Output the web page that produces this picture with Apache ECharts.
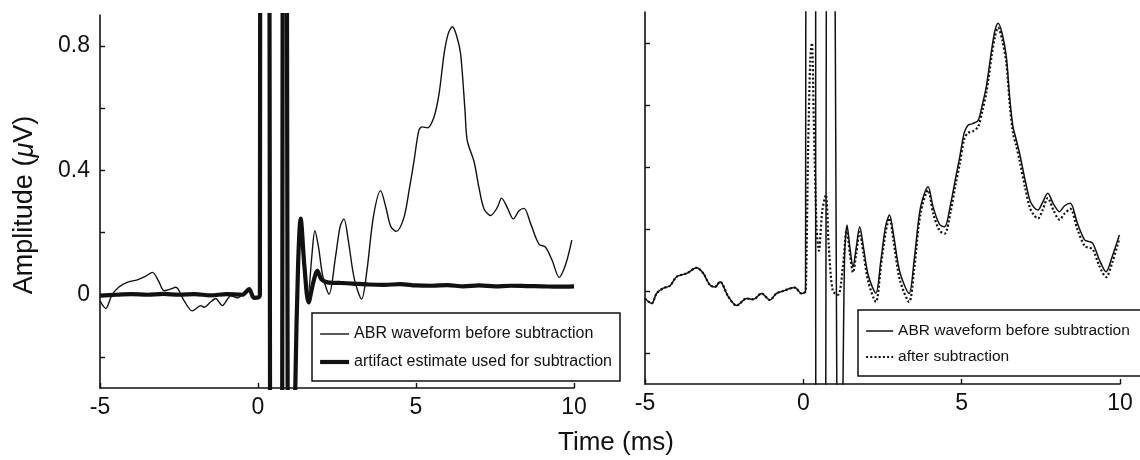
<!DOCTYPE html>
<html>
<head>
<meta charset="utf-8">
<script src="https://cdn.jsdelivr.net/npm/echarts@6/dist/echarts.min.js"></script>
<style>
html,body{margin:0;padding:0;background:#fff;}
#c{width:1140px;height:460px;}
</style>
</head>
<body>
<div id="c"></div>
<script>
// ---- data (time in ms, amplitude in µV) ----
const xTickLabels = [-5, 0, 5, 10];
const yTickValues = [-0.2, 0, 0.2, 0.4, 0.6, 0.8];
const yLabelValues = [0, 0.4, 0.8];

const nameBefore = 'ABR waveform before subtraction';
const nameArtifact = 'artifact estimate used for subtraction';
const nameAfter = 'after subtraction';

// Left panel: ABR waveform before subtraction
const leftBefore = [
  [-5.0,-0.02],[-4.82,-0.044],[-4.62,0.0],[-4.4,0.025],[-4.14,0.04],[-3.82,0.048],[-3.55,0.06],[-3.34,0.072],
  [-3.15,0.045],[-2.97,0.013],[-2.78,0.018],[-2.6,0.024],[-2.34,-0.019],[-2.08,-0.052],[-1.81,-0.035],[-1.7,-0.04],
  [-1.52,-0.025],[-1.34,-0.012],[-1.13,-0.035],[-0.86,-0.003],[-0.65,-0.01],[-0.45,0.005],[-0.28,0.018],[-0.13,-0.009],
  [0.03,-0.008],[0.06,0.0],[0.08,2],[0.35,2],[0.39,-1],[0.76,-1],[0.79,2],[0.9,2],[0.95,-1],[1.1,-1],[1.18,-0.3],
  [1.27,0.1],[1.35,0.245],[1.47,0.12],[1.59,0.002],[1.7,0.12],[1.8,0.206],[1.92,0.15],[2.05,0.06],[2.25,0.002],
  [2.45,0.12],[2.6,0.22],[2.72,0.244],[2.85,0.18],[3.05,0.05],[3.28,-0.014],[3.45,0.08],[3.65,0.25],[3.88,0.335],
  [4.05,0.28],[4.2,0.22],[4.38,0.204],[4.62,0.249],[4.78,0.335],[4.94,0.432],[5.09,0.529],[5.2,0.54],[5.36,0.537],
  [5.57,0.572],[5.73,0.647],[5.89,0.776],[6.02,0.84],[6.15,0.862],[6.28,0.835],[6.41,0.776],[6.55,0.594],[6.62,0.497],
  [6.84,0.427],[6.99,0.346],[7.15,0.277],[7.36,0.255],[7.57,0.28],[7.71,0.311],[7.89,0.28],[8.08,0.244],[8.26,0.27],
  [8.42,0.278],[8.63,0.228],[8.89,0.163],[9.1,0.153],[9.31,0.11],[9.53,0.056],[9.74,0.099],[9.93,0.176]
];

// Left panel: artifact estimate
const leftArtifact = [
  [-5.0,-0.003],[-4.5,0.0],[-4.0,0.002],[-3.5,0.0],[-3.0,0.003],[-2.5,0.0],[-2.0,0.002],[-1.5,-0.002],[-1.0,0.002],
  [-0.5,0.0],[-0.28,0.018],[-0.13,-0.01],[0.03,-0.008],[0.06,0.0],[0.08,2],[0.35,2],[0.39,-1],[0.76,-1],[0.79,2],
  [0.9,2],[0.95,-1],[1.1,-1],[1.18,-0.3],[1.27,0.1],[1.35,0.245],[1.47,0.09],[1.6,-0.025],[1.75,0.04],[1.88,0.077],
  [2.0,0.05],[2.2,0.04],[2.6,0.038],[3.0,0.036],[3.5,0.033],[4.0,0.032],[4.5,0.034],[5.0,0.03],[5.5,0.029],[6.0,0.031],
  [6.5,0.027],[7.0,0.03],[7.5,0.027],[8.0,0.029],[8.5,0.028],[9.0,0.027],[9.5,0.026],[10.0,0.027]
];

// Right panel: ABR waveform before subtraction
const rightBefore = [
  [-5.0,-0.024],[-4.79,-0.04],[-4.63,-0.007],[-4.42,0.009],[-4.21,0.017],[-4.0,0.046],[-3.68,0.057],[-3.37,0.075],
  [-3.16,0.057],[-2.95,0.019],[-2.79,0.013],[-2.63,0.03],[-2.37,-0.018],[-2.11,-0.047],[-1.79,-0.024],[-1.58,-0.027],
  [-1.32,-0.008],[-1.06,-0.029],[-0.85,-0.008],[-0.64,0.0],[-0.27,0.011],[-0.06,-0.008],[0.04,-0.005],
  [0.07,0.0],[0.09,2],[0.34,2],[0.44,-1],[0.7,-1],[0.74,2],[0.9,2],[1.12,-1],[1.16,-1],[1.3,0.1],[1.38,0.213],
  [1.47,0.14],[1.57,0.078],[1.67,0.14],[1.78,0.207],[1.9,0.14],[2.05,0.05],[2.29,-0.007],[2.45,0.1],[2.6,0.21],
  [2.72,0.245],[2.85,0.18],[3.05,0.06],[3.34,-0.008],[3.5,0.1],[3.7,0.27],[3.94,0.336],[4.1,0.27],[4.3,0.215],
  [4.46,0.207],[4.65,0.28],[4.8,0.36],[4.94,0.433],[5.08,0.51],[5.2,0.535],[5.35,0.54],[5.52,0.55],[5.65,0.6],
  [5.78,0.66],[5.95,0.78],[6.05,0.84],[6.15,0.864],[6.28,0.83],[6.41,0.756],[6.52,0.62],[6.62,0.53],[6.72,0.49],
  [6.83,0.444],[7.0,0.36],[7.15,0.294],[7.28,0.27],[7.41,0.261],[7.55,0.285],[7.72,0.315],[7.9,0.28],[8.09,0.256],
  [8.25,0.275],[8.43,0.283],[8.65,0.22],[8.88,0.165],[9.0,0.16],[9.14,0.154],[9.35,0.1],[9.56,0.062],[9.75,0.11],[9.98,0.181]
];

// Right panel: after subtraction
const rightAfter = [
  [-5.0,-0.024],[-4.79,-0.04],[-4.63,-0.007],[-4.42,0.009],[-4.21,0.017],[-4.0,0.046],[-3.68,0.057],[-3.37,0.075],
  [-3.16,0.057],[-2.95,0.019],[-2.79,0.013],[-2.63,0.03],[-2.37,-0.018],[-2.11,-0.047],[-1.79,-0.024],[-1.58,-0.027],
  [-1.32,-0.008],[-1.06,-0.029],[-0.85,-0.008],[-0.64,0.0],[-0.27,0.011],[-0.06,-0.008],[0.04,-0.005],
  [0.08,0.0],[0.15,0.45],[0.22,0.75],[0.27,0.8],[0.33,0.55],[0.42,0.2],[0.49,0.13],[0.6,0.26],[0.71,0.31],[0.8,0.15],
  [0.93,0.0],[1.1,-0.012],[1.25,0.08],[1.37,0.2],[1.47,0.12],[1.57,0.06],[1.67,0.12],[1.78,0.19],[1.9,0.12],[2.05,0.03],
  [2.29,-0.035],[2.45,0.08],[2.6,0.19],[2.72,0.235],[2.85,0.16],[3.05,0.035],[3.34,-0.035],[3.5,0.07],[3.7,0.25],
  [3.94,0.325],[4.1,0.25],[4.3,0.195],[4.46,0.185],[4.65,0.255],[4.8,0.34],[4.94,0.41],[5.08,0.49],[5.2,0.51],
  [5.35,0.515],[5.52,0.53],[5.65,0.58],[5.78,0.64],[5.95,0.76],[6.05,0.82],[6.15,0.85],[6.28,0.81],[6.41,0.735],
  [6.52,0.6],[6.62,0.51],[6.72,0.47],[6.83,0.42],[7.0,0.335],[7.15,0.27],[7.28,0.245],[7.41,0.234],[7.55,0.26],
  [7.72,0.3],[7.9,0.26],[8.09,0.23],[8.25,0.25],[8.43,0.265],[8.65,0.2],[8.88,0.145],[9.0,0.14],[9.14,0.135],
  [9.35,0.08],[9.56,0.045],[9.75,0.09],[9.98,0.17]
];

// ---- chart ----
const INK = '#111';
const FONT = "'Liberation Sans', Arial, sans-serif";

function xAxis(grid) {
  return {
    type: 'value', gridIndex: grid, min: -5, max: 10, interval: 5,
    axisLine: { show: true, onZero: false, lineStyle: { color: INK, width: 1.6 } },
    axisTick: { show: true, inside: true, length: 5, lineStyle: { color: INK, width: 1.4 },
                customValues: xTickLabels },
    axisLabel: { color: INK, fontSize: 23, fontFamily: FONT, margin: 8, customValues: xTickLabels },
    splitLine: { show: false }
  };
}
function yAxis(grid, labels) {
  return {
    type: 'value', gridIndex: grid, min: -0.3, max: 0.9, interval: 0.1,
    axisLine: { show: true, onZero: false, lineStyle: { color: INK, width: 1.6 } },
    axisTick: { show: true, inside: true, length: 5, lineStyle: { color: INK, width: 1.4 },
                customValues: yTickValues },
    axisLabel: { show: labels, color: INK, fontSize: 23, fontFamily: FONT, margin: 10,
                 customValues: yLabelValues },
    splitLine: { show: false }
  };
}
function line(name, data, xi, width, type, smooth) {
  return {
    type: 'line', name: name, data: data, xAxisIndex: xi, yAxisIndex: xi,
    symbol: 'none', smooth: smooth, clip: true, animation: false,
    lineStyle: { color: INK, width: width, type: type, cap: 'butt' },
    itemStyle: { color: INK }
  };
}

const chart = echarts.init(document.getElementById('c'), null, { renderer: 'canvas' });
chart.setOption({
  backgroundColor: '#fff',
  animation: false,
  grid: [
    { left: 100, top: 15, width: 474, height: 373, outerBoundsMode: 'none', containLabel: false },
    { left: 645, top: 12, width: 475, height: 372, outerBoundsMode: 'none', containLabel: false }
  ],
  xAxis: [xAxis(0), xAxis(1)],
  yAxis: [yAxis(0, true), yAxis(1, false)],
  legend: [
    {
      data: [
        { name: nameBefore, lineStyle: { width: 1.4, color: INK, type: 'solid' } },
        { name: nameArtifact, lineStyle: { width: 4.2, color: INK, type: 'solid' } }
      ],
      orient: 'vertical', left: 312, top: 313,
      itemWidth: 29, itemHeight: 14, itemGap: 12, padding: [13, 8, 11, 6],
      borderColor: INK, borderWidth: 1.5, backgroundColor: '#fff', selectedMode: false,
      itemStyle: { opacity: 0 },
      textStyle: { color: INK, fontSize: 16, fontFamily: FONT }
    },
    {
      data: [
        { name: nameBefore, lineStyle: { width: 1.5, color: INK, type: 'solid' } },
        { name: nameAfter, lineStyle: { width: 2.2, color: INK, type: [2, 2.2] } }
      ],
      orient: 'vertical', left: 858, top: 310,
      itemWidth: 27, itemHeight: 14, itemGap: 10, padding: [13, 20, 11, 7],
      borderColor: INK, borderWidth: 1.5, backgroundColor: '#fff', selectedMode: false,
      itemStyle: { opacity: 0 },
      textStyle: { color: INK, fontSize: 15.5, fontFamily: FONT }
    }
  ],
  series: [
    line(nameBefore, leftBefore, 0, 1.4, 'solid', 0.3),
    line(nameArtifact, leftArtifact, 0, 4.2, 'solid', 0.3),
    line(nameBefore, rightBefore, 1, 1.5, 'solid', 0.3),
    line(nameAfter, rightAfter, 1, 2.2, [2, 2.2], 0.3)
  ],
  graphic: [
    {
      type: 'text', x: 25, y: 205, rotation: Math.PI / 2,
      style: {
        text: 'Amplitude ({i|μ}V)', fill: INK, font: "27px 'Liberation Sans', Arial, sans-serif",
        align: 'center', verticalAlign: 'middle',
        rich: { i: { fontStyle: 'italic', fontSize: 27, fontFamily: FONT, fill: INK } }
      }
    },
    {
      type: 'text', x: 616, y: 443,
      style: {
        text: 'Time (ms)', fill: INK, font: "26px 'Liberation Sans', Arial, sans-serif",
        align: 'center', verticalAlign: 'middle'
      }
    }
  ]
});
</script>
</body>
</html>
